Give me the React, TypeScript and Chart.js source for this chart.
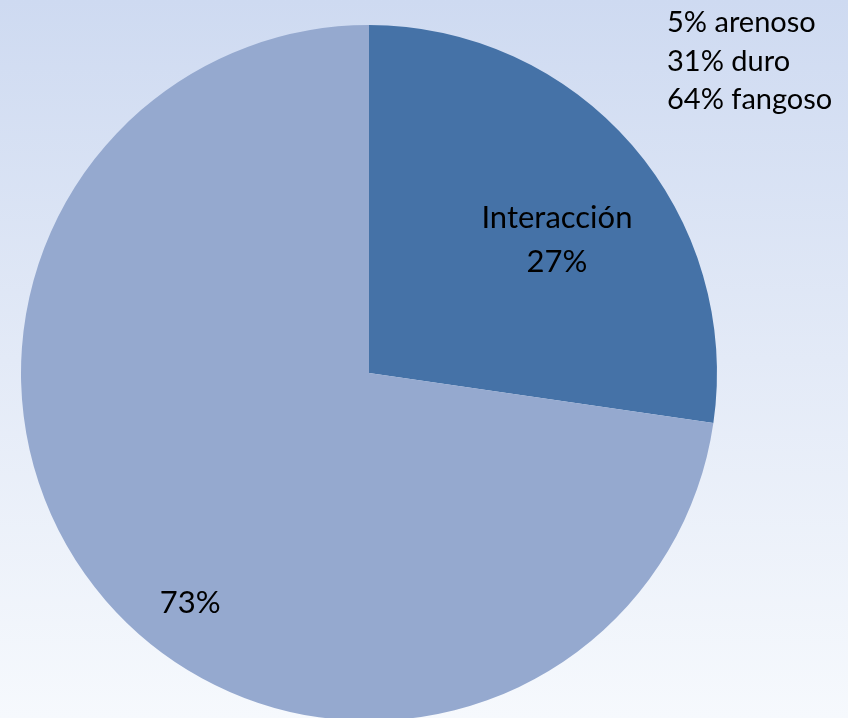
import React, { useEffect, useRef } from "react";
import { Chart, registerables } from "chart.js";

Chart.register(...registerables);

const categories = ["Interacción", "Otros"];
const values = [27.3, 72.7];
const sliceLabels = [["Interacción", "27%"], ["73%"]];
const legendLines = ["5% arenoso", "31% duro", "64% fangoso"];
const colors = ["#4572A7", "#95A9CF"];

const FONT = "Lato, 'Open Sans', sans-serif";

const labelPlugin = {
  id: "sliceLabels",
  afterDraw(chart: any) {
    const ctx = chart.ctx;
    const meta = chart.getDatasetMeta(0);
    const offsets = [
      [0.54, -0.382],
      [-0.514, 0.661],
    ];
    ctx.save();
    ctx.fillStyle = "#000";
    ctx.textAlign = "center";
    ctx.textBaseline = "middle";
    ctx.font = `31px ${FONT}`;
    meta.data.forEach((arc: any, i: number) => {
      const r = arc.outerRadius;
      const cx = arc.x + offsets[i][0] * r;
      const cy = arc.y + offsets[i][1] * r;
      const lines = sliceLabels[i];
      const lh = 44;
      lines.forEach((t, j) => {
        ctx.fillText(t, cx, cy + (j - (lines.length - 1) / 2) * lh);
      });
    });
    ctx.textAlign = "left";
    ctx.font = `29px ${FONT}`;
    legendLines.forEach((t, j) => {
      ctx.fillText(t, 667, 23 + j * 38.5);
    });
    ctx.restore();
  },
};

export default function App() {
  const ref = useRef<HTMLCanvasElement>(null);
  useEffect(() => {
    document.body.style.margin = "0";
    const chart = new Chart(ref.current!, {
      type: "pie",
      data: {
        labels: categories,
        datasets: [
          {
            data: values,
            backgroundColor: colors,
            borderWidth: 0,
          },
        ],
      },
      options: {
        animation: false,
        responsive: false,
        layout: { padding: { left: 21, right: 131, top: 25, bottom: 19 } },
        plugins: {
          legend: { display: false },
          tooltip: { enabled: false },
        },
      },
      plugins: [labelPlugin],
    });
    return () => chart.destroy();
  }, []);
  return (
    <div
      style={{
        position: "fixed",
        left: 0,
        top: 0,
        width: 848,
        height: 718,
        overflow: "hidden",
        background: "linear-gradient(to bottom, #CEDAF1 0%, #E3EAF7 50%, #F6F9FD 100%)",
      }}
    >
      <canvas ref={ref} width={848} height={740} style={{ display: "block" }} />
    </div>
  );
}
